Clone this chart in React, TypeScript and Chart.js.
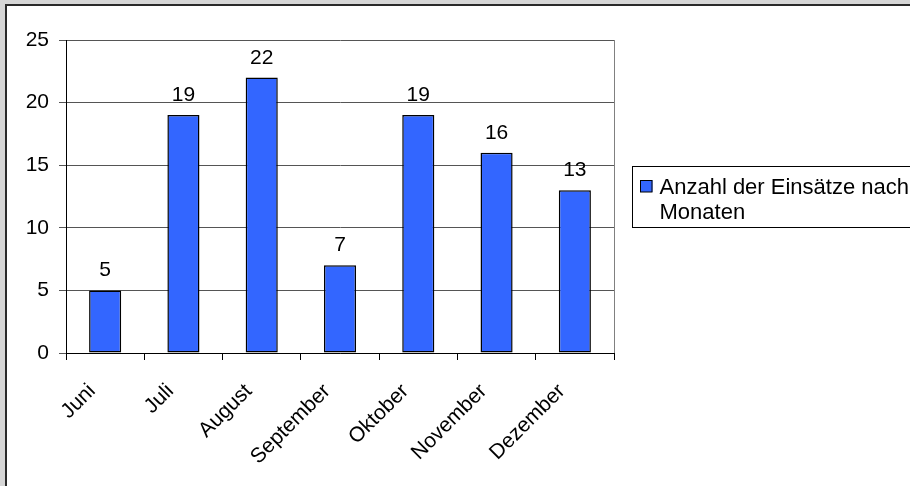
import React, { useEffect, useRef } from "react";
import { Chart, registerables } from "chart.js";

Chart.register(...registerables);

// Einsätze pro Monat
const months = ["Juni", "Juli", "August", "September", "Oktober", "November", "Dezember"];
const einsaetze = [5, 19, 22, 7, 19, 16, 13];
const seriesLabel = "Anzahl der Einsätze nach Monaten";
const legendLines = ["Anzahl der Einsätze nach", "Monaten"];
const yTicks = { min: 0, max: 25, step: 5 };

const FONT_FAMILY = "'Liberation Sans', Arial, Helvetica, sans-serif";
const BAR_COLOR = "#3366FF";

// page background, white chart box and its dark frame
const framePlugin = {
  id: "frame",
  beforeDraw(chart: any) {
    const { ctx, width, height } = chart;
    ctx.save();
    ctx.fillStyle = "#d6d6d6";
    ctx.fillRect(0, 0, width, height);
    ctx.fillStyle = "#ffffff";
    ctx.fillRect(6, 5, width - 6, height - 5);
    ctx.fillStyle = "#2a2a2a";
    ctx.fillRect(5, 4, width - 5, 2);
    ctx.fillRect(5, 4, 2, height - 4);
    ctx.restore();
  },
};

// grey right edge of the plot area
const plotEdgePlugin = {
  id: "plotEdge",
  beforeDatasetsDraw(chart: any) {
    const { ctx, chartArea } = chart;
    ctx.save();
    ctx.strokeStyle = "#808080";
    ctx.lineWidth = 1;
    ctx.beginPath();
    ctx.moveTo(Math.round(chartArea.right) + 0.5, chartArea.top);
    ctx.lineTo(Math.round(chartArea.right) + 0.5, chartArea.bottom);
    ctx.stroke();
    ctx.restore();
  },
};

// value above every bar
const valueLabelPlugin = {
  id: "valueLabels",
  afterDatasetsDraw(chart: any) {
    const { ctx } = chart;
    const meta = chart.getDatasetMeta(0);
    const values = chart.data.datasets[0].data as number[];
    ctx.save();
    ctx.font = `21px ${FONT_FAMILY}`;
    ctx.fillStyle = "#000";
    ctx.textAlign = "center";
    ctx.textBaseline = "alphabetic";
    meta.data.forEach((bar: any, i: number) => {
      ctx.fillText(String(values[i]), bar.x, bar.y - 14);
    });
    ctx.restore();
  },
};

// boxed legend to the right of the plot
const legendBoxPlugin = {
  id: "legendBox",
  afterDraw(chart: any) {
    const { ctx, chartArea } = chart;
    const left = Math.round(chartArea.right) + 18.5;
    const top = 166.5;
    ctx.save();
    ctx.fillStyle = "#fff";
    ctx.fillRect(left, top, 400, 61);
    ctx.strokeStyle = "#000";
    ctx.lineWidth = 1;
    ctx.strokeRect(left, top, 400, 61);
    const ds = chart.data.datasets[0];
    ctx.fillStyle = ds.backgroundColor;
    ctx.fillRect(left + 8, 180, 12, 12);
    ctx.strokeRect(left + 8, 180.5, 11.5, 11.5);
    ctx.fillStyle = "#000";
    ctx.font = `22px ${FONT_FAMILY}`;
    ctx.textAlign = "left";
    ctx.textBaseline = "alphabetic";
    legendLines.forEach((line, i) => {
      ctx.fillText(line, left + 27, 194 + i * 25);
    });
    ctx.restore();
  },
};

export default function App() {
  const canvasRef = useRef<HTMLCanvasElement | null>(null);

  useEffect(() => {
    document.body.style.margin = "0";
    const canvas = canvasRef.current;
    if (!canvas) return;

    const chart = new Chart(canvas, {
      type: "bar",
      data: {
        labels: months,
        datasets: [
          {
            label: seriesLabel,
            data: einsaetze,
            backgroundColor: BAR_COLOR,
            borderColor: "#000",
            borderWidth: 1.5,
            borderSkipped: false,
            categoryPercentage: 1,
            barPercentage: 0.41,
          },
        ],
      },
      options: {
        responsive: false,
        maintainAspectRatio: false,
        devicePixelRatio: 1,
        animation: false,
        layout: { padding: { left: 0, top: 40, right: 296, bottom: 0 } },
        plugins: {
          legend: { display: false },
          tooltip: { enabled: false },
        },
        scales: {
          x: {
            type: "category",
            offset: true,
            grid: {
              offset: true,
              drawOnChartArea: false,
              drawTicks: true,
              tickLength: 7,
              color: "#000",
            },
            border: { color: "#000", width: 1 },
            ticks: {
              autoSkip: false,
              minRotation: 45,
              maxRotation: 45,
              labelOffset: -13,
              padding: 19,
              color: "#000",
              font: { family: FONT_FAMILY, size: 21 },
            },
            afterFit: (scale: any) => {
              scale.height = 133;
            },
          },
          y: {
            min: yTicks.min,
            max: yTicks.max,
            ticks: {
              stepSize: yTicks.step,
              padding: 10,
              color: "#000",
              font: { family: FONT_FAMILY, size: 21 },
            },
            grid: {
              color: "#555",
              lineWidth: 1,
              tickLength: 7,
            },
            border: { color: "#000", width: 1 },
            afterFit: (scale: any) => {
              scale.width = 66;
            },
          },
        },
      },
      plugins: [framePlugin, plotEdgePlugin, valueLabelPlugin, legendBoxPlugin],
    });

    return () => chart.destroy();
  }, []);

  return <canvas ref={canvasRef} width={910} height={486} style={{ display: "block" }} />;
}
